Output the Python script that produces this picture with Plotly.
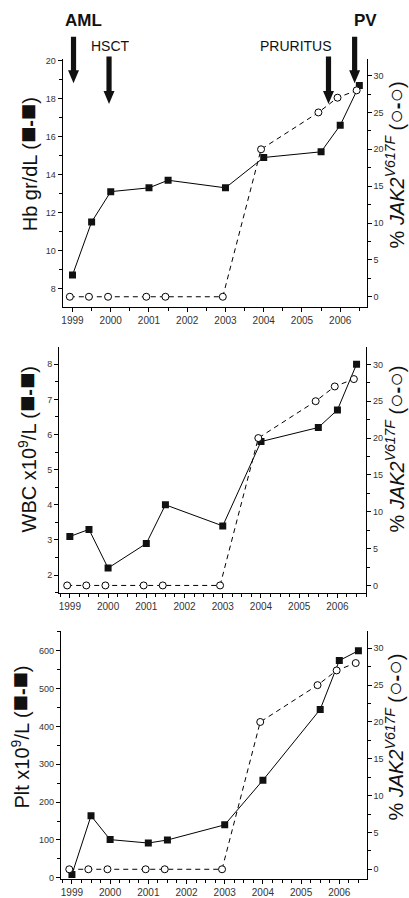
import plotly.graph_objects as go

W, H = 409, 898

# ---------------- data ----------------
years = [1999, 2000, 2001, 2002, 2003, 2004, 2005, 2006]
year_labels = [str(y) for y in years]

blood_dates = [1999.0, 1999.5, 2000.0, 2001.0, 2001.5, 2003.0, 2004.0, 2005.5, 2006.0, 2006.5]
jak2_dates = [1998.93, 1999.43, 1999.93, 2000.93, 2001.43, 2002.93, 2003.93, 2005.43, 2005.93, 2006.43]

hb = [8.7, 11.5, 13.1, 13.3, 13.7, 13.3, 14.9, 15.2, 16.6, 18.7]
wbc = [3.1, 3.3, 2.2, 2.9, 4.0, 3.4, 5.8, 6.2, 6.7, 8.0]
plt_counts = [9, 164, 101, 92, 100, 140, 258, 445, 574, 600]
jak2_pct = [0, 0, 0, 0, 0, 0, 20, 25, 27, 28]

SQ = '<span style="font-size:27px">■</span>'
CI = '<span style="font-size:24px">○</span>'
left_titles = [f"Hb gr/dL ({SQ}<b>-</b>{SQ})",
               f"WBC x10<sup>9</sup>/L ({SQ}<b>-</b>{SQ})",
               f"Plt x10<sup>9</sup>/L ({SQ}<b>-</b>{SQ})"]
right_title = f"% <i>JAK2<sup>V617F</sup></i> ({CI}<b>-</b>{CI})"

events = ["AML", "HSCT", "PRURITUS", "PV"]

# ---------------- layout helpers ----------------
def px(x):
    return x / W

def py(y):
    return 1 - y / H

FONT = "Arial, Liberation Sans, sans-serif"

panels = [
    dict(xd=(61.7, 366.5), yd=(56, 306), xr=[1998.74, 2006.69], lr=[7.02, 20.07], rr=[-1.38, 32.19],
         ld=2, lm=1, xm=0.5, vals=hb),
    dict(xd=(58.3, 366.0), yd=(346.5, 595), xr=[1998.72, 2006.75], lr=[1.49, 8.49], rr=[-1.03, 32.35],
         ld=1, lm=0.5, xm=0.25, vals=wbc),
    dict(xd=(60.0, 366.7), yd=(633, 884), xr=[1998.71, 2006.72], lr=[-3.4, 653], rr=[-1.34, 32.4],
         ld=100, lm=50, xm=0.25, vals=plt_counts),
]

fig = go.Figure()
layout = dict(
    width=W, height=H, autosize=False,
    margin=dict(l=0, r=0, t=0, b=0),
    paper_bgcolor="white", plot_bgcolor="white",
    showlegend=False,
    font=dict(family=FONT, color="#222"),
)

tickfont_y = dict(family=FONT, size=9, color="#333")
tickfont_x = dict(family=FONT, size=10, color="#333")

for i, p in enumerate(panels):
    xi = i + 1
    yl = 2 * i + 1
    yr = 2 * i + 2
    xname = "xaxis" if xi == 1 else f"xaxis{xi}"
    ylname = "yaxis" if yl == 1 else f"yaxis{yl}"
    yrname = f"yaxis{yr}"
    xref = "x" if xi == 1 else f"x{xi}"
    ylref = "y" if yl == 1 else f"y{yl}"
    yrref = f"y{yr}"

    layout[xname] = dict(
        domain=[px(p["xd"][0]), px(p["xd"][1])], range=p["xr"], anchor=ylref,
        tickmode="array", tickvals=years, ticktext=year_labels,
        ticks="outside", ticklen=4, tickwidth=1, tickcolor="black",
        minor=dict(tickmode="linear", tick0=1999, dtick=p["xm"], ticks="outside",
                   ticklen=3, tickwidth=1, tickcolor="black"),
        showline=True, linecolor="black", linewidth=1, showgrid=False, zeroline=False,
        tickfont=tickfont_x, fixedrange=True,
    )
    layout[ylname] = dict(
        domain=[py(p["yd"][1]), py(p["yd"][0])], range=p["lr"], anchor=xref,
        tickmode="linear", tick0=0, dtick=p["ld"],
        ticks="outside", ticklen=4, tickwidth=1, tickcolor="black",
        minor=dict(tickmode="linear", tick0=0, dtick=p["lm"], ticks="outside",
                   ticklen=3, tickwidth=1, tickcolor="black"),
        showline=True, linecolor="black", linewidth=1, showgrid=False, zeroline=False,
        tickfont=tickfont_y, fixedrange=True,
    )
    layout[yrname] = dict(
        overlaying=ylref, side="right", range=p["rr"], anchor=xref,
        tickmode="linear", tick0=0, dtick=5,
        ticks="outside", ticklen=4, tickwidth=1, tickcolor="black",
        minor=dict(tickmode="linear", tick0=0, dtick=2.5, ticks="outside",
                   ticklen=3, tickwidth=1, tickcolor="black"),
        showline=True, linecolor="black", linewidth=1, showgrid=False, zeroline=False,
        tickfont=tickfont_y, fixedrange=True,
    )

    fig.add_trace(go.Scatter(
        x=jak2_dates, y=jak2_pct, xaxis=xref, yaxis=yrref, mode="lines+markers",
        line=dict(color="black", width=1, dash="5px,4px"),
        marker=dict(symbol="circle", size=7, color="white", line=dict(color="black", width=1)),
        hoverinfo="skip",
    ))
    fig.add_trace(go.Scatter(
        x=blood_dates, y=p["vals"], xaxis=xref, yaxis=ylref, mode="lines+markers",
        line=dict(color="black", width=1),
        marker=dict(symbol="square", size=7, color="#111", line=dict(width=0)),
        hoverinfo="skip",
    ))

# axis titles as annotations
annotations = []
left_pos = [(27, 162), (27, 450), (19, 740)]
right_pos = [(395, 163), (395, 450), (395, 741)]
for t, (x, y) in zip(left_titles, left_pos):
    annotations.append(dict(text=t, x=px(x), y=py(y), xref="paper", yref="paper",
                            xanchor="center", yanchor="middle", textangle=-90, showarrow=False,
                            font=dict(family=FONT, size=20, color="#111")))
for (x, y) in right_pos:
    annotations.append(dict(text=right_title, x=px(x), y=py(y), xref="paper", yref="paper",
                            xanchor="center", yanchor="middle", textangle=-90, showarrow=False,
                            font=dict(family=FONT, size=20, color="#111")))

# event labels
event_text_pos = [(83, 17, True), (110, 42, False), (296, 42, False), (365, 17, True)]
for name, (x, y, bold) in zip(events, event_text_pos):
    annotations.append(dict(text=f"<b>{name}</b>" if bold else name, x=px(x), y=py(y),
                            xref="paper", yref="paper", xanchor="center", yanchor="middle",
                            showarrow=False,
                            font=dict(family=FONT, size=17 if bold else 14, color="#111")))
layout["annotations"] = annotations

# arrows (decoration) as filled paths
arrows = [(72.7, 33, 80), (108.3, 53, 101), (328.3, 53, 101), (354.5, 33, 80)]
shapes = []
for (cx, top, tip) in arrows:
    sw, hw, hl = 2.6, 5.5, 13
    pts = [(cx - sw, top), (cx + sw, top), (cx + sw, tip - hl), (cx + hw, tip - hl), (cx, tip),
           (cx - hw, tip - hl), (cx - sw, tip - hl)]
    path = "M " + " L ".join(f"{px(a):.5f},{py(b):.5f}" for a, b in pts) + " Z"
    shapes.append(dict(type="path", path=path, xref="paper", yref="paper",
                       fillcolor="#111", line=dict(width=0)))
layout["shapes"] = shapes

fig.update_layout(**layout)
fig.write_html("out.html", config=dict(displayModeBar=False, staticPlot=True),
               post_script="document.body.style.margin='0px';document.body.style.overflow='hidden';")
